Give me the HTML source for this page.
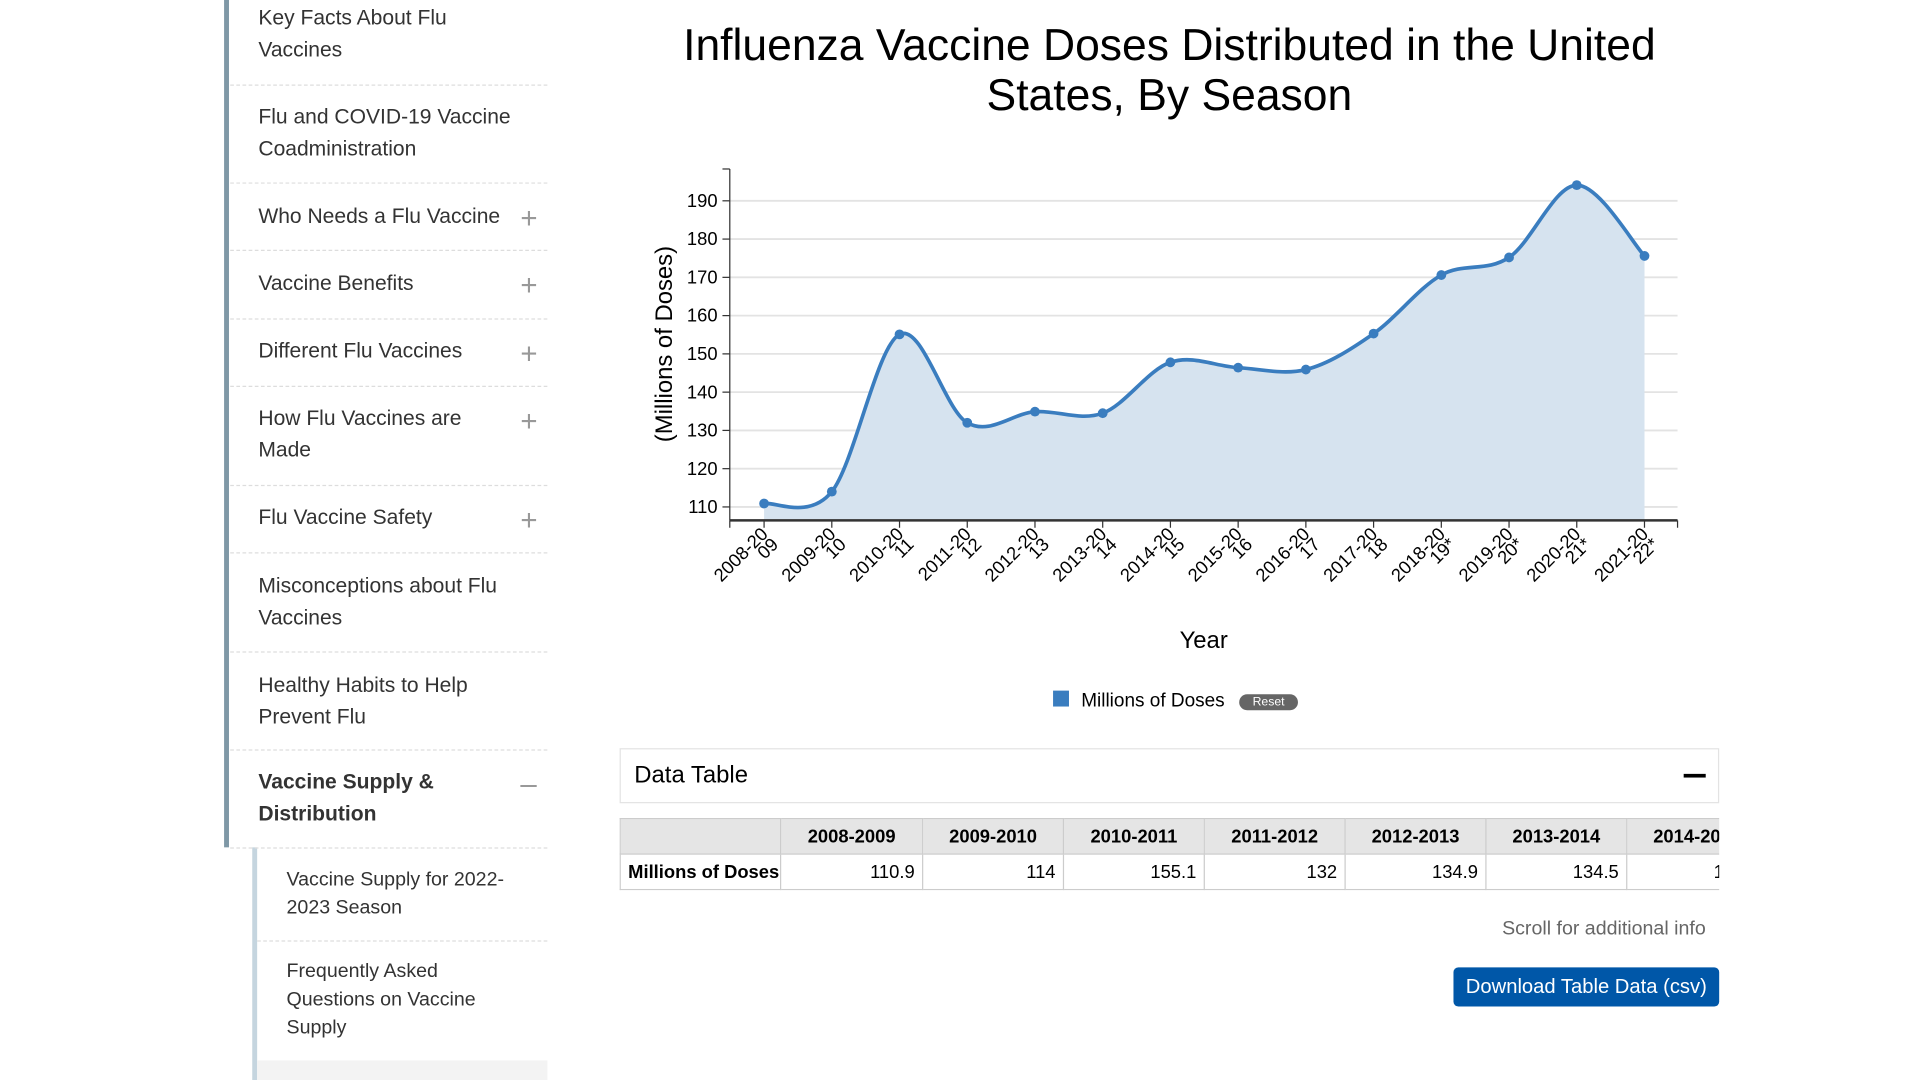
<!DOCTYPE html>
<html><head><meta charset="utf-8"><style>
html,body{margin:0;padding:0;background:#fff;width:1920px;height:1080px;overflow:hidden}
#wrap{position:absolute;left:0;top:0;width:1568px;height:882px;transform:scale(1.22449);transform-origin:0 0;font-family:"Liberation Sans",sans-serif}
.abs{position:absolute}
.side{position:absolute;left:188px;width:259px;color:#333;font-size:17.2px;line-height:26px;border-bottom:1px dashed #ddd;box-sizing:border-box}
.side span.t{position:absolute;left:23px;width:210px}
.plus{position:absolute;left:237px;color:#999;font-size:24px;line-height:20px}
.sub{position:absolute;left:210px;width:237px;color:#333;font-size:16px;line-height:23px;box-sizing:border-box}
table{border-collapse:collapse;font-size:15px}
td,th{border:1px solid #ccc;height:29px;padding:0 6px;box-sizing:border-box;white-space:nowrap;overflow:hidden}
</style></head><body><div id="wrap">
<div class="abs" style="left:183px;top:0;width:4px;height:692px;background:#7f98a6"></div>
<div class="abs" style="left:206px;top:692px;width:4px;height:190px;background:#c5d5df"></div>
<div class="side" style="top:0;height:70px"><span class="t" style="top:1px">Key Facts About Flu Vaccines</span></div>
<div class="side" style="top:70px;height:80px"><span class="t" style="top:12px">Flu and COVID-19 Vaccine Coadministration</span></div>
<div class="side" style="top:150px;height:55px"><span class="t" style="top:13px">Who Needs a Flu Vaccine</span><span class="plus" style="top:19px">+</span></div>
<div class="side" style="top:205px;height:56px"><span class="t" style="top:13px">Vaccine Benefits</span><span class="plus" style="top:19px">+</span></div>
<div class="side" style="top:261px;height:55px"><span class="t" style="top:12px">Different Flu Vaccines</span><span class="plus" style="top:19px">+</span></div>
<div class="side" style="top:316px;height:81px"><span class="t" style="top:12px">How Flu Vaccines are Made</span><span class="plus" style="top:19px">+</span></div>
<div class="side" style="top:397px;height:55px"><span class="t" style="top:12px">Flu Vaccine Safety</span><span class="plus" style="top:19px">+</span></div>
<div class="side" style="top:452px;height:81px"><span class="t" style="top:13px">Misconceptions about Flu Vaccines</span></div>
<div class="side" style="top:533px;height:80px"><span class="t" style="top:13px">Healthy Habits to Help Prevent Flu</span></div>
<div class="side" style="top:613px;height:80px;font-weight:bold"><span class="t" style="top:12px">Vaccine Supply &amp; Distribution</span><span class="plus" style="top:18px;font-weight:normal">–</span></div>
<div class="sub" style="top:693px;height:76px;border-bottom:1px dashed #ddd"><span class="abs" style="left:24px;top:14px;width:190px">Vaccine Supply for 2022-2023 Season</span></div>
<div class="sub" style="top:769px;height:97px"><span class="abs" style="left:24px;top:13px;width:190px">Frequently Asked Questions on Vaccine Supply</span></div>
<div class="abs" style="left:210px;top:866px;width:237px;height:16px;background:#f3f3f3"></div>

<div class="abs" style="left:520px;top:16px;width:870px;text-align:center;font-size:36.3px;line-height:41px;color:#000">Influenza Vaccine Doses Distributed in the United States, By Season</div>
<svg class="abs" style="left:0;top:0" width="1568" height="600" id="chart"></svg>

<div class="abs" style="left:860px;top:564px;width:13px;height:13px;background:#3a7dbf"></div>
<div class="abs" style="left:883px;top:564px;font-size:15.5px">Millions of Doses</div>
<div class="abs" style="left:1012px;top:567px;width:48px;height:13px;border-radius:7px;background:#666;color:#fff;font-size:10px;line-height:13px;text-align:center">Reset</div>

<div class="abs" style="left:506px;top:611px;width:898px;height:45px;border:1px solid #e3e3e3;box-sizing:border-box">
<span class="abs" style="left:11px;top:10px;font-size:19.5px">Data Table</span>
<span class="abs" style="left:868px;top:20px;width:18px;height:3px;background:#000"></span></div>
<div class="abs" style="left:506px;top:668px;width:898px;overflow:hidden">
<table style="width:1052px;table-layout:fixed">
<colgroup><col style="width:131px"><col style="width:116px"><col style="width:115px"><col style="width:115px"><col style="width:115px"><col style="width:115px"><col style="width:115px"><col style="width:115px"><col style="width:115px"></colgroup>
<tr style="background:#e5e5e5;font-weight:bold"><th></th><th>2008-2009</th><th>2009-2010</th><th>2010-2011</th><th>2011-2012</th><th>2012-2013</th><th>2013-2014</th><th>2014-2015</th><th>2015-2016</th></tr>
<tr style="text-align:right"><td style="text-align:left;font-weight:bold">Millions of Doses</td><td>110.9</td><td>114</td><td>155.1</td><td>132</td><td>134.9</td><td>134.5</td><td>147.8</td><td>146.4</td></tr>
</table></div>
<div class="abs" style="left:1100px;top:750px;width:293px;text-align:right;color:#666;font-size:16px">Scroll for additional info</div>
<div class="abs" style="left:1187px;top:790px;width:217px;height:32px;background:#0057a8;border-radius:4px;color:#fff;font-size:16.5px;line-height:32px;text-align:center">Download Table Data (csv)</div>
</div>
<script>
const categories=["2008-2009","2009-2010","2010-2011","2011-2012","2012-2013","2013-2014","2014-2015","2015-2016","2016-2017","2017-2018","2018-2019*","2019-2020*","2020-2021*","2021-2022*"];
const doses=[110.9,114,155.1,132,134.9,134.5,147.8,146.4,145.9,155.3,170.6,175.2,194.1,175.6];
const yTicks=[110,120,130,140,150,160,170,180,190];
const NS="http://www.w3.org/2000/svg";
const svg=document.getElementById('chart');
const X0=596,X1=1370,Y0=425,YT=138;
const x=i=>624+i*(1343-624)/(categories.length-1);
const y=v=>414-(v-110)*250/80;
function mk(t,a,p){const e=document.createElementNS(NS,t);for(const k in a)e.setAttribute(k,a[k]);(p||svg).appendChild(e);return e;}
yTicks.forEach(v=>{
 const g=mk('line',{x1:X0,x2:X1,y1:y(v),y2:y(v),stroke:'#e3e3e3','stroke-width':1.5});
 
 
 mk('line',{x1:X0-6,x2:X0,y1:y(v),y2:y(v),stroke:'#333'});
 const t=mk('text',{x:X0-10,y:y(v)+5,'text-anchor':'end','font-size':15,fill:'#000'});
 t.textContent=v;
 
 
});
const pts=doses.map((v,i)=>[x(i),y(v)]);
let d='M'+pts[0][0]+','+pts[0][1];
for(let i=0;i<pts.length-1;i++){
 const p0=pts[Math.max(0,i-1)],p1=pts[i],p2=pts[i+1],p3=pts[Math.min(pts.length-1,i+2)];
 const c1=[p1[0]+(p2[0]-p0[0])/6,p1[1]+(p2[1]-p0[1])/6],c2=[p2[0]-(p3[0]-p1[0])/6,p2[1]-(p3[1]-p1[1])/6];
 d+=`C${c1[0]},${c1[1]} ${c2[0]},${c2[1]} ${p2[0]},${p2[1]}`;
}
const area=mk('path',{d:d+`L${pts[pts.length-1][0]},${Y0}L${pts[0][0]},${Y0}Z`,fill:'#d6e3ef'});


const line=mk('path',{d:d,fill:'none',stroke:'#3a7dbf','stroke-width':3});


pts.forEach(p=>{const c=mk('circle',{cx:p[0],cy:p[1],r:4,fill:'#3a7dbf'});
 
 });
mk('line',{x1:X0,x2:X0,y1:YT,y2:Y0,stroke:'#333'});
mk('line',{x1:X0-6,x2:X0,y1:YT,y2:YT,stroke:'#333'});
mk('line',{x1:X0,x2:X1,y1:Y0,y2:Y0,stroke:'#333','stroke-width':2});
mk('line',{x1:X0,x2:X0,y1:Y0,y2:Y0+6,stroke:'#333'});
mk('line',{x1:X1,x2:X1,y1:Y0,y2:Y0+6,stroke:'#333'});
categories.forEach((c,i)=>{
 mk('line',{x1:x(i),x2:x(i),y1:Y0,y2:Y0+6,stroke:'#333'});
 const a=c.slice(0,7),b=c.slice(7);
 const t=mk('text',{transform:`translate(${x(i)+4},${Y0+12}) rotate(-45)`,'text-anchor':'end','font-size':15,fill:'#000'});
 
 
 mk('tspan',{x:0,y:0},t).textContent=a;
 mk('tspan',{x:0,dy:12},t).textContent=b;
});
const yl=mk('text',{transform:'translate(549,281) rotate(-90)','text-anchor':'middle','font-size':19.5,fill:'#000'});
yl.textContent='(Millions of Doses)';


const xl=mk('text',{x:983,y:529,'text-anchor':'middle','font-size':19.5,fill:'#000'});
xl.textContent='Year';


</script>
</body></html>
